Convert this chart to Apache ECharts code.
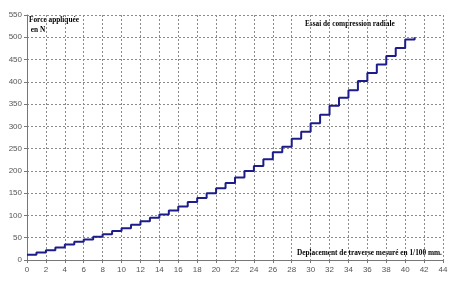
<!DOCTYPE html>
<html><head><meta charset="utf-8">
<script src="https://cdn.jsdelivr.net/npm/echarts@6/dist/echarts.min.js"></script>
<style>html,body{margin:0;padding:0;background:#fff}#c{width:455px;height:283px}</style>
</head><body><div id="c"></div>
<script>
var displacement = [0,1,2,3,4,5,6,7,8,9,10,11,12,13,14,15,16,17,18,19,20,21,22,23,24,25,26,27,28,29,30,31,32,33,34,35,36,37,38,39,40,41];
var force = [12,17,22,28,35,41,46,52,58,65,71,79,87,95,102,111,120,130,139,150,161,173,185,200,211,226,242,254,272,288,307,326,346,364,381,402,420,439,458,476,495,500];
var yTitle = 'Force appliquée\n en N';
var xTitle = 'Deplacement de traverse mesuré en 1/100 mm.';
var chartTitle = 'Essai de compression radiale';

var chart = echarts.init(document.getElementById('c'), null, {renderer:'canvas'});
var data = displacement.map(function(x,i){return [x, force[i]];});
var gridLine = {show:true, lineStyle:{color:'#8c8c8c', type:[2,2], width:1}};
var labelStyle = {color:'#555', fontFamily:'Arial, Liberation Sans, sans-serif', fontSize:8};
var titleFont = 'bold 7.3px "Liberation Serif", "Times New Roman", serif';
chart.setOption({
  animation:false,
  grid:{left:27, right:12, top:15, bottom:23, show:false},
  xAxis:{type:'value', min:0, max:44, interval:2,
    axisLine:{show:true, onZero:false, lineStyle:{color:'#777', width:1}},
    axisTick:{show:true, length:3, lineStyle:{color:'#777'}},
    axisLabel:Object.assign({margin:6}, labelStyle),
    splitLine:gridLine},
  yAxis:{type:'value', min:0, max:550, interval:50,
    axisLine:{show:true, lineStyle:{color:'#777', width:1}},
    axisTick:{show:true, length:3, lineStyle:{color:'#777'}},
    axisLabel:Object.assign({margin:5}, labelStyle),
    splitLine:gridLine},
  graphic:[
    {type:'text', left:29, top:15, style:{text:yTitle, font:titleFont, fill:'#000', lineHeight:10}},
    {type:'text', left:305, top:21, style:{text:chartTitle, font:titleFont, fill:'#000'}},
    {type:'text', left:297, top:250, style:{text:xTitle, font:titleFont, fill:'#000', backgroundColor:'#fff'}}
  ],
  series:[{type:'line', step:'end', data:data, showSymbol:false, symbol:'none',
    lineStyle:{color:'#1c1c8a', width:2}}]
});
</script></body></html>
